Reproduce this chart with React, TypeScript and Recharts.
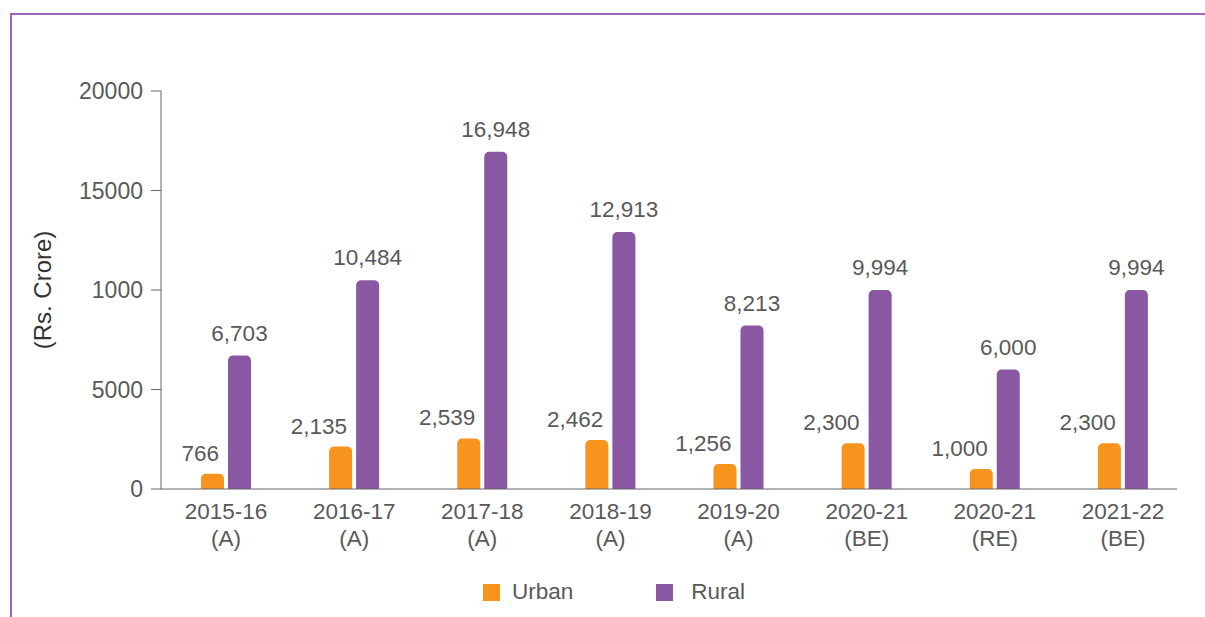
import React from 'react'
import { BarChart, Bar, XAxis, YAxis, Legend, LabelList } from 'recharts'

const years = ['2015-16', '2016-17', '2017-18', '2018-19', '2019-20', '2020-21', '2020-21', '2021-22']
const stages = ['(A)', '(A)', '(A)', '(A)', '(A)', '(BE)', '(RE)', '(BE)']
const urban = [766, 2135, 2539, 2462, 1256, 2300, 1000, 2300]
const rural = [6703, 10484, 16948, 12913, 8213, 9994, 6000, 9994]
const yTicks = [0, 5000, 10000, 15000, 20000]
const yTickLabels = ['0', '5000', '1000', '15000', '20000']

const ORANGE = '#F7941D'
const PURPLE = '#8A57A3'
const TEXT = '#595959'
const FONT = '"Liberation Sans", Arial, sans-serif'

const data = years.map((year, i) => ({
  key: `${year} ${stages[i]}`,
  year,
  stage: stages[i],
  Urban: urban[i],
  Rural: rural[i],
}))

const fmt = (v: any) => Number(v).toLocaleString('en-US')

const XTick = (props: any) => {
  const { x, y, index } = props
  return (
    <text x={x} y={y} textAnchor="middle" fill={TEXT} fontSize={22.5} fontFamily={FONT}>
      <tspan x={x} dy={30}>{years[index]}</tspan>
      <tspan x={x} dy={27}>{stages[index]}</tspan>
    </text>
  )
}

const urbanLabel = (props: any) => {
  const { x, y, width, value } = props
  return (
    <text x={Number(x) + Number(width) - 5} y={Number(y) - 13} textAnchor="end" fill={TEXT} fontSize={22.5} fontFamily={FONT}>
      {fmt(value)}
    </text>
  )
}

const ruralLabel = (props: any) => {
  const { x, y, width, value } = props
  return (
    <text x={Number(x) + Number(width) / 2} y={Number(y) - 15} textAnchor="middle" fill={TEXT} fontSize={22.5} fontFamily={FONT}>
      {fmt(value)}
    </text>
  )
}

const legendContent = () => (
  <div style={{ display: 'flex', alignItems: 'center', height: 28, fontFamily: FONT, fontSize: 22.5, color: TEXT }}>
    <span style={{ width: 17, height: 17, background: ORANGE, display: 'inline-block' }} />
    <span style={{ marginLeft: 12 }}>Urban</span>
    <span style={{ width: 17, height: 17, background: PURPLE, display: 'inline-block', marginLeft: 83 }} />
    <span style={{ marginLeft: 18 }}>Rural</span>
  </div>
)

export default function App() {
  return (
    <div style={{ position: 'absolute', top: 0, left: 0, width: 1205, height: 617, background: '#fff' }}>
      <div style={{ position: 'absolute', left: 10, top: 13, width: 1195, height: 2, background: '#9c64bc' }} />
      <div style={{ position: 'absolute', left: 10, top: 13, width: 2, height: 604, background: '#9c64bc' }} />
      <BarChart
        width={1205}
        height={617}
        data={data}
        margin={{ top: 91, right: 28, left: 20, bottom: 11 }}
        barSize={23}
        barGap={4}
      >
        <XAxis
          dataKey="key"
          tick={<XTick />}
          tickLine={false}
          tickSize={0}
          tickMargin={0}
          interval={0}
          height={89}
          stroke="#666"
          padding={{ left: 1, right: -10 }}
        />
        <YAxis
          domain={[0, 20000]}
          ticks={yTicks}
          tickFormatter={(v: number) => yTickLabels[yTicks.indexOf(v)]}
          width={141}
          tickSize={10}
          tickMargin={8}
          stroke="#666"
          tick={{ fill: TEXT, fontSize: 23, fontFamily: FONT }}
          label={{
            value: '(Rs. Crore)',
            angle: -90,
            position: 'insideLeft',
            offset: 22,
            fill: '#333',
            fontSize: 24,
            fontFamily: FONT,
            style: { textAnchor: 'middle', fill: '#333', fontSize: 24, fontFamily: FONT },
          }}
        />
        <Legend
          verticalAlign="bottom"
          content={legendContent}
          wrapperStyle={{ left: 483, width: 320 }}
        />
        <Bar dataKey="Urban" fill={ORANGE} radius={[5, 5, 0, 0]} isAnimationActive={false}>
          <LabelList dataKey="Urban" content={urbanLabel} />
        </Bar>
        <Bar dataKey="Rural" fill={PURPLE} radius={[5, 5, 0, 0]} isAnimationActive={false}>
          <LabelList dataKey="Rural" content={ruralLabel} />
        </Bar>
      </BarChart>
    </div>
  )
}
